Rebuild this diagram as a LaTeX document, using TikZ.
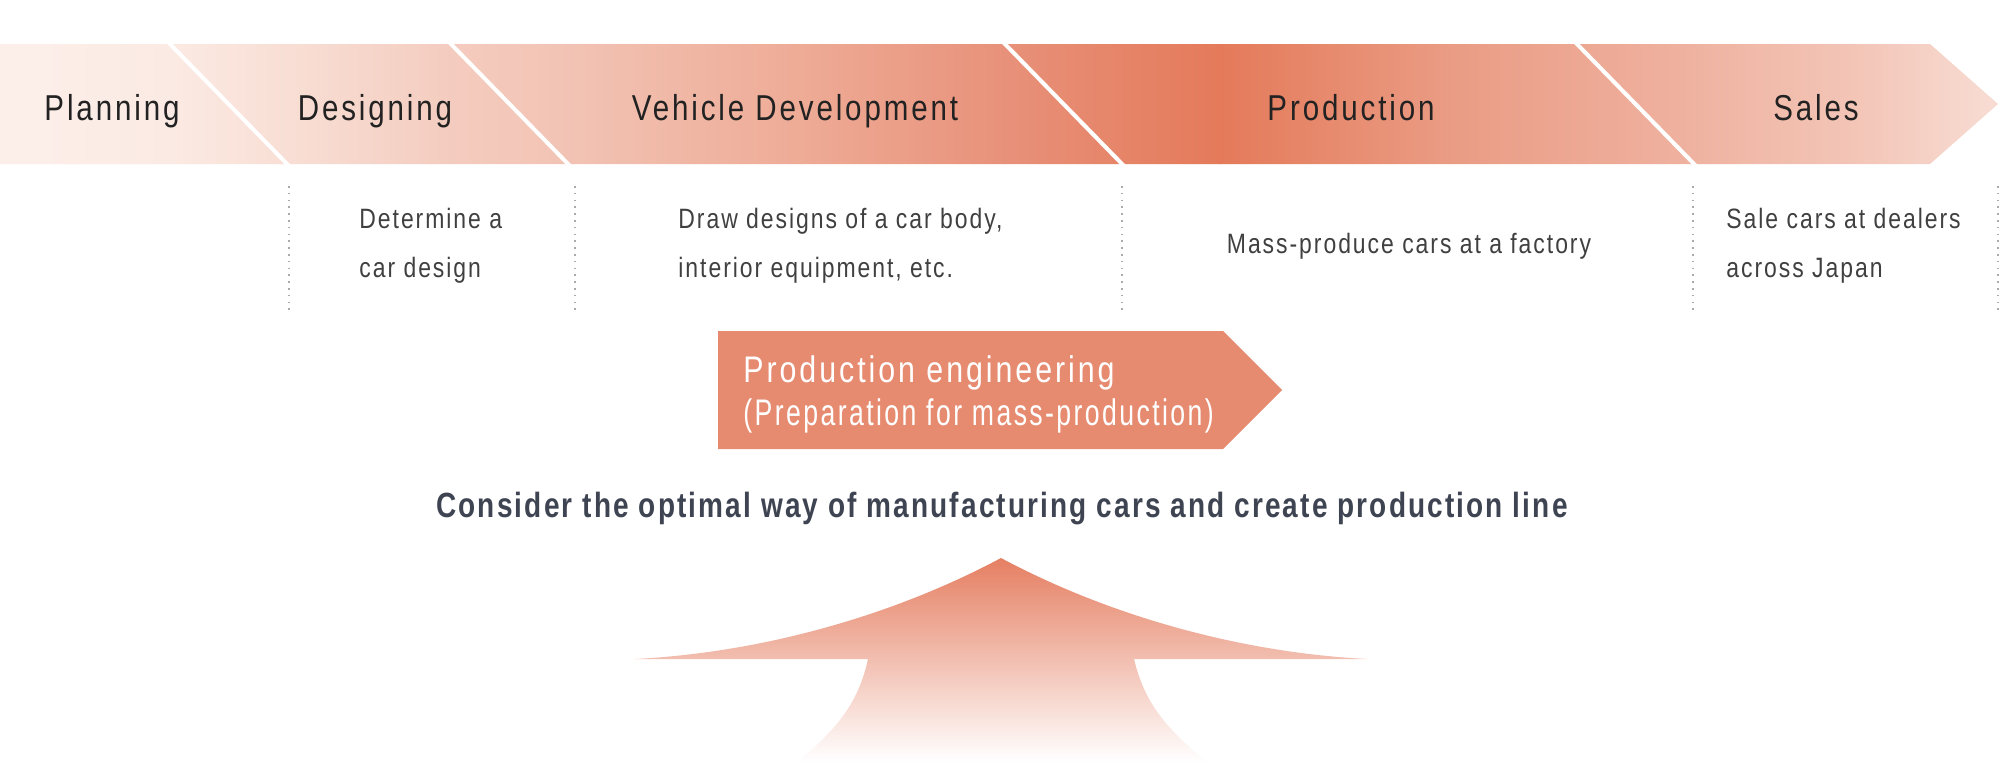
\documentclass[tikz,border=0pt]{standalone}
\usepackage{fontspec}
\setmainfont{Liberation Sans}
\newfontfamily\headfont[FakeStretch=0.82,LetterSpace=8]{Liberation Sans}
\newfontfamily\boxfontb[FakeStretch=0.72,LetterSpace=6.5]{Liberation Sans}
\newfontfamily\descfont[FakeStretch=0.82,LetterSpace=7]{Liberation Sans}
\newfontfamily\strongfont[FakeStretch=0.8,LetterSpace=6.1]{Liberation Sans}
\definecolor{g0}{HTML}{FCEFEA}
\definecolor{g1}{HTML}{FBEAE3}
\definecolor{g2}{HTML}{F8DDD3}
\definecolor{g3}{HTML}{F4CCBF}
\definecolor{g4}{HTML}{F2C3B4}
\definecolor{g5}{HTML}{EEAB96}
\definecolor{g6}{HTML}{E8917A}
\definecolor{g7}{HTML}{E47A5A}
\definecolor{g8}{HTML}{EA9C84}
\definecolor{g9}{HTML}{EFB2A0}
\definecolor{g10}{HTML}{F3C6B8}
\definecolor{g11}{HTML}{F8DDD4}
\definecolor{boxc}{HTML}{E68B70}
\definecolor{headc}{HTML}{222222}
\definecolor{descc}{HTML}{404040}
\definecolor{strongc}{HTML}{3E4451}
\definecolor{dotc}{HTML}{AAAAAA}
\definecolor{tipc}{HTML}{E57F62}
\definecolor{midc}{HTML}{F7D6CB}
\tikzset{
  head/.style={anchor=base, font=\headfont\fontsize{18}{20}\selectfont, text=headc, inner sep=0pt},
  desc/.style={anchor=base west, font=\descfont\fontsize{14}{16}\selectfont, text=descc, inner sep=0pt},
  desccenter/.style={anchor=base, font=\descfont\fontsize{14}{16}\selectfont, text=descc, inner sep=0pt},
  boxtext/.style={anchor=base west, font=\headfont\fontsize{18.5}{20}\selectfont, text=white, inner sep=0pt},
  boxtextb/.style={anchor=base west, font=\boxfontb\fontsize{18.5}{20}\selectfont, text=white, inner sep=0pt},
  strongtext/.style={anchor=base, font=\strongfont\bfseries\fontsize{17.5}{19}\selectfont, text=strongc, inner sep=0pt},
  sepline/.style={white, line width=2pt},
  dotline/.style={dotc, line width=0.8pt, dash pattern=on 0.8pt off 2.6pt},
}
\begin{document}
\begin{tikzpicture}[x=0.5pt,y=-0.5pt]
\useasboundingbox (0,0) rectangle (2002,762);
\fill[white] (0,0) rectangle (2002,762);
% band
\begin{scope}
\clip (0,44) -- (1930,44) -- (1998,104) -- (1930,164) -- (0,164) -- cycle;
\shade[left color=g0,right color=g1] (0,44) rectangle (171,164);
\shade[left color=g1,right color=g2] (170,44) rectangle (301,164);
\shade[left color=g2,right color=g3] (300,44) rectangle (451,164);
\shade[left color=g3,right color=g4] (450,44) rectangle (571,164);
\shade[left color=g4,right color=g5] (570,44) rectangle (801,164);
\shade[left color=g5,right color=g6] (800,44) rectangle (1005,164);
\shade[left color=g6,right color=g7] (1004,44) rectangle (1221,164);
\shade[left color=g7,right color=g8] (1220,44) rectangle (1451,164);
\shade[left color=g8,right color=g9] (1450,44) rectangle (1691,164);
\shade[left color=g9,right color=g10] (1690,44) rectangle (1861,164);
\shade[left color=g10,right color=g11] (1860,44) rectangle (2002,164);
\end{scope}
% separators
\coordinate (s1a) at (168,42); \coordinate (s1b) at (289,166);
\coordinate (s2a) at (449,42); \coordinate (s2b) at (570,166);
\coordinate (s3a) at (1003,42); \coordinate (s3b) at (1124,166);
\coordinate (s4a) at (1575,42); \coordinate (s4b) at (1696,166);
\draw[sepline] (s1a) -- (s1b);
\draw[sepline] (s2a) -- (s2b);
\draw[sepline] (s3a) -- (s3b);
\draw[sepline] (s4a) -- (s4b);
% headings
\node[head] (planning) at (112,120) {Planning};
\node[head] (designing) at (375,120) {Designing};
\node[head] (vehicle) at (795,120) {Vehicle Development};
\node[head] (production) at (1351,120) {Production};
\node[head] (sales) at (1816,120) {Sales};
% dotted lines
\foreach \i/\x in {1/289,2/575,3/1122,4/1693,5/1998}{
  \coordinate (d\i t) at (\x,186);
  \coordinate (d\i b) at (\x,310);
  \draw[dotline] (d\i t) -- (d\i b);
}
% descriptions
\node[desc] (des1a) at (359,228.5) {Determine a};
\node[desc] (des1b) at (359,277.5) {car design};
\node[desc] (des2a) at (678,228.5) {Draw designs of a car body,};
\node[desc] (des2b) at (678,277.5) {interior equipment, etc.};
\node[desccenter] (des3) at (1409,253) {Mass-produce cars at a factory};
\node[desc] (des4a) at (1726,228.5) {Sale cars at dealers};
\node[desc] (des4b) at (1726,277.5) {across Japan};
% production engineering box
\fill[boxc] (718,331) -- (1223,331) -- (1282,390) -- (1223,449) -- (718,449) -- cycle;
\node[boxtext] (pe1) at (743,382) {Production engineering};
\node[boxtextb] (pe2) at (743,425) {(Preparation for mass-production)};
% statement
\node[strongtext] (stmt) at (1002,517) {Consider the optimal way of manufacturing cars and create production line};
% bottom arrow
\shade[top color=tipc, middle color=midc, bottom color=white]
  (1001,558) .. controls (900,612) and (770,652) .. (635,659)
  -- (868,659) .. controls (858,705) and (835,730) .. (798,762)
  -- (1207,762) .. controls (1168,730) and (1145,705) .. (1134,659)
  -- (1367,659) .. controls (1232,652) and (1102,612) .. (1001,558) -- cycle;
\end{tikzpicture}
\end{document}
